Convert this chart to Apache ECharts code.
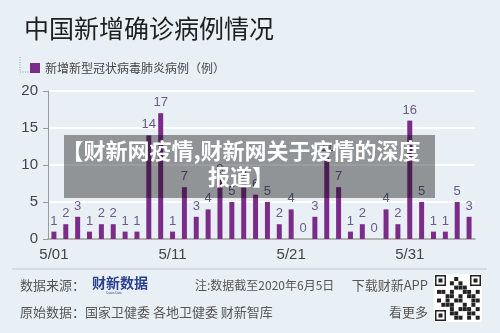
<!DOCTYPE html>
<html><head><meta charset="utf-8">
<script src="https://cdn.jsdelivr.net/npm/echarts@6/dist/echarts.min.js"></script>
<style>html,body{margin:0;padding:0;background:#e9f0f5}#c{width:500px;height:333px}</style>
</head><body><div id="c"></div>
<script>
const categories = ['5/01','5/02','5/03','5/04','5/05','5/06','5/07','5/08','5/09','5/10',
  '5/11','5/12','5/13','5/14','5/15','5/16','5/17','5/18','5/19','5/20',
  '5/21','5/22','5/23','5/24','5/25','5/26','5/27','5/28','5/29','5/30',
  '5/31','6/01','6/02','6/03','6/04','6/05'];
const newCases = [1,2,3,1,2,2,1,1,14,17,1,7,3,4,8,5,7,6,5,2,4,0,3,11,7,1,2,0,4,2,16,5,1,1,5,3];
const yTicks = [0,5,10,15,20];
const seriesName = '新增新型冠状病毒肺炎病例（例）';

const font = '"Noto Sans CJK SC","Noto Sans",sans-serif';
const chart = echarts.init(document.getElementById('c'), null, {renderer:'canvas'});

// simple QR-like decoration
const qr = [];
const qx = 434, qy = 274, qs = 48;
qr.push({type:'rect', shape:{x:qx,y:qy,width:qs,height:qs}, style:{fill:'#fff'}, z:50});
function finder(x,y){
  qr.push({type:'rect', shape:{x:x,y:y,width:11,height:11}, style:{fill:'#222'}, z:51});
  qr.push({type:'rect', shape:{x:x+1.5,y:y+1.5,width:8,height:8}, style:{fill:'#fff'}, z:52});
  qr.push({type:'rect', shape:{x:x+3.5,y:y+3.5,width:4,height:4}, style:{fill:'#222'}, z:53});
}
finder(qx+1,qy+1); finder(qx+qs-12,qy+1); finder(qx+1,qy+qs-12);
const pat = ['0110100110','1011010011','0100111010','1101001101','0011010110',
             '1010110011','0111001010','1001011101','0101100110','1100110101'];
for (let r=0;r<10;r++) for (let c=0;c<10;c++){
  if ((r<3&&c<3)||(r<3&&c>6)||(r>6&&c<3)) continue;
  if (pat[r][c]==='1') qr.push({type:'rect', shape:{x:qx+3+c*4.3,y:qy+3+r*4.3,width:4,height:4}, style:{fill:'#222'}, z:51});
}

chart.setOption({
  backgroundColor:'#e9f0f5',
  animation:false,
  textStyle:{fontFamily:font},
  title:{text:'中国新增确诊病例情况', left:19, top:11,
    textStyle:{fontSize:25, fontWeight:'normal', color:'#1e1e1e', fontFamily:font}},
  legend:{left:25, top:57, icon:'rect', itemWidth:10, itemHeight:10, itemGap:6,
    textStyle:{fontSize:12, color:'#444', fontFamily:font}, data:[seriesName]},
  grid:{left:48, right:25, top:91, bottom:94, containLabel:false},
  xAxis:{type:'category', data:categories,
    axisLine:{lineStyle:{color:'#9a9a9a', width:1.5}},
    axisTick:{interval:9, length:4, lineStyle:{color:'#9a9a9a'}},
    axisLabel:{interval:9, fontSize:15, color:'#444', margin:8, fontFamily:'"Liberation Sans",Arial,sans-serif'}},
  yAxis:{type:'value', min:0, max:20, interval:5,
    axisLine:{show:true, lineStyle:{color:'#9a9a9a', width:1}},
    axisTick:{show:true, length:5, lineStyle:{color:'#9a9a9a'}},
    axisLabel:{fontSize:15, color:'#444', margin:10, fontFamily:'"Liberation Sans",Arial,sans-serif',
      formatter:v=>yTicks.includes(v)?String(v):''},
    splitLine:{lineStyle:{color:'#ffffff', width:2}}},
  series:[{name:seriesName, type:'bar', data:newCases, barWidth:5,
    itemStyle:{color:'#7b2c89'},
    label:{show:true, position:'top', distance:4, fontSize:13, color:'#6a5a88',
      fontFamily:'"Liberation Sans",Arial,sans-serif'}}],
  graphic:[
    {type:'line', shape:{x1:20,y1:57,x2:20,y2:72}, style:{stroke:'#999',lineDash:[1,1.5],lineWidth:1}},
    {type:'line', shape:{x1:20,y1:72,x2:40,y2:72}, style:{stroke:'#999',lineDash:[1,1.5],lineWidth:1}},
    {type:'rect', shape:{x:64,y:135,width:371,height:63}, style:{fill:'rgba(10,10,10,0.4)'}, z:100},
    {type:'text', x:241, y:151, z:101, style:{text:'【财新网疫情,财新网关于疫情的深度', fill:'#fff',
      font:'bold 22px '+font, textAlign:'center', textVerticalAlign:'middle'}},
    {type:'text', x:241, y:177, z:101, style:{text:'报道】', fill:'#fff',
      font:'bold 22px '+font, textAlign:'center', textVerticalAlign:'middle'}},
    {type:'line', shape:{x1:12,y1:269,x2:487,y2:269}, style:{stroke:'#c4c8cc',lineWidth:1}},
    {type:'text', x:20, y:285, style:{text:'数据来源：', fill:'#555', font:'13px '+font, textVerticalAlign:'middle'}},
    {type:'text', x:92, y:283, style:{text:'财新数据', fill:'#2b3f92', font:'bold 14px '+font, textVerticalAlign:'middle'}},
    {type:'text', x:106, y:293, style:{text:'Caixin Data', fill:'#2b3f92', font:'3px sans-serif', textVerticalAlign:'middle'}},
    {type:'text', x:195, y:285, style:{text:'注:数据截至2020年6月5日', fill:'#555', font:'12px '+font, textVerticalAlign:'middle'}},
    {type:'text', x:428, y:285, style:{text:'下载财新APP', fill:'#555', font:'13px '+font, textAlign:'right', textVerticalAlign:'middle'}},
    {type:'text', x:20, y:312, style:{text:'原始数据：国家卫健委 各地卫健委 财新智库', fill:'#555', font:'13px '+font, textVerticalAlign:'middle'}},
    {type:'text', x:428, y:312, style:{text:'看更多', fill:'#555', font:'13px '+font, textAlign:'right', textVerticalAlign:'middle'}}
  ].concat(qr)
});
</script></body></html>
